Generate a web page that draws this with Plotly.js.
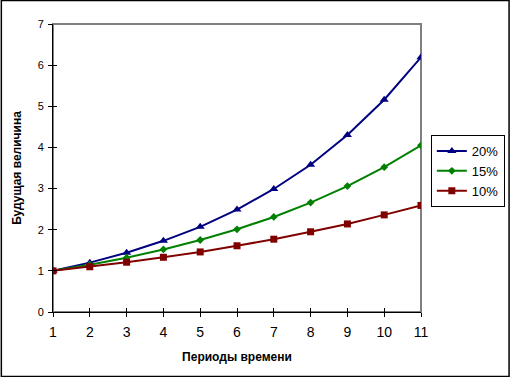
<!DOCTYPE html>
<html><head><meta charset="utf-8">
<script src="https://cdn.plot.ly/plotly-3.0.1.min.js"></script>
<style>html,body{margin:0;padding:0;background:#fff}#c{width:517px;height:377px}</style>
</head><body><div id="c"></div>
<script>
const periods = [1,2,3,4,5,6,7,8,9,10,11];
const r20 = [1,1.2,1.44,1.73,2.07,2.49,2.99,3.58,4.3,5.16,6.19];
const r15 = [1,1.15,1.32,1.52,1.75,2.01,2.31,2.66,3.06,3.52,4.05];
const r10 = [1,1.1,1.21,1.33,1.46,1.61,1.77,1.95,2.14,2.36,2.59];
const names = ['20%','15%','10%'];
const xTitle = 'Периоды времени';
const yTitle = 'Будущая величина';

const W=517,H=377,L=53,R=90,T=24,B=65;
const pw=W-L-R, ph=H-T-B;
const px=v=>(v-L)/pw, py=v=>(H-B-v)/ph;

const traces = [
 {x:periods,y:r20,name:names[0],mode:'lines+markers',line:{color:'#000080',width:2},marker:{symbol:'triangle-up',size:8,color:'#000080'}},
 {x:periods,y:r15,name:names[1],mode:'lines+markers',line:{color:'#008000',width:2},marker:{symbol:'diamond',size:6,color:'#008000'}},
 {x:periods,y:r10,name:names[2],mode:'lines+markers',line:{color:'#800000',width:2},marker:{symbol:'square',size:7,color:'#800000'}},
 {x:[],y:[],xaxis:'x2',yaxis:'y2',showlegend:false,hoverinfo:'skip'}
];
const font={family:'Liberation Sans, Arial, sans-serif',size:11,color:'#000'};
const layout={
 width:W,height:H,margin:{l:L,r:R,t:T,b:B},
 paper_bgcolor:'#fff',plot_bgcolor:'#fff',font:font,
 showlegend:true,
 xaxis:{range:[1,11],tickvals:periods,ticks:'outside',ticklen:4,tickcolor:'#000',showline:true,linecolor:'#000',linewidth:1,showgrid:false,zeroline:false,
   title:{text:xTitle,font:{size:12,weight:'bold',family:font.family},standoff:13},automargin:false,tickfont:{size:14},ticklabelstandoff:3},
 yaxis:{range:[0,7],dtick:1,ticks:'outside',ticklen:4,tickcolor:'#000',showline:true,linecolor:'#000',linewidth:1,showgrid:false,zeroline:false,
   title:{text:yTitle,font:{size:12,weight:'bold',family:font.family},standoff:13},automargin:false,tickfont:{size:11},ticklabelstandoff:2},
 xaxis2:{overlaying:'x',range:[1,11],tickvals:periods,ticks:'inside',ticklen:4,tickcolor:'#000',showticklabels:false,showline:false,showgrid:false,zeroline:false},
 yaxis2:{overlaying:'y',range:[0,7],dtick:1,ticks:'inside',ticklen:4,tickcolor:'#000',showticklabels:false,showline:false,showgrid:false,zeroline:false},
 legend:{x:px(437),y:py(135),xanchor:'left',yanchor:'top',bordercolor:'#000',borderwidth:1,bgcolor:'#fff',font:{size:13,family:font.family},tracegroupgap:0,itemwidth:30},
 shapes:[
  {type:'rect',xref:'paper',yref:'paper',x0:0,x1:1,y0:0,y1:1,line:{color:'#808080',width:2},layer:'below'},
  {type:'rect',xref:'paper',yref:'paper',x0:px(0.5),x1:px(516.5),y0:py(376.5),y1:py(0.5),line:{color:'#000',width:1.5}}
 ]
};
Plotly.newPlot('c',traces,layout,{displayModeBar:false,staticPlot:true});
</script></body></html>
